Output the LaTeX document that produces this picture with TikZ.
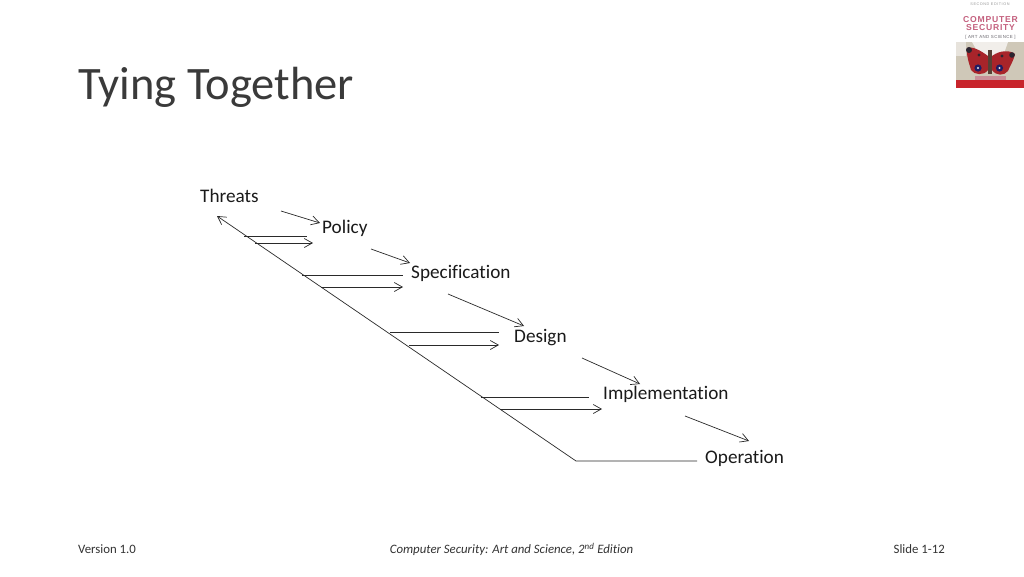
\documentclass[tikz,border=0pt]{standalone}
\usepackage{fontspec}
\setmainfont[RawFeature={-liga;-clig}]{Carlito}
\newfontfamily\coverf[LetterSpace=9]{Liberation Sans}
\newfontfamily\coverg[LetterSpace=14]{Liberation Sans}
\usetikzlibrary{arrows.meta}
\definecolor{titlec}{HTML}{3A3A3A}
\definecolor{labelc}{HTML}{1A1A1A}
\definecolor{linec}{HTML}{2A2A2A}
\definecolor{footc}{HTML}{333333}
\definecolor{pinkc}{HTML}{C4607E}
\definecolor{redc}{HTML}{C8242B}
\definecolor{creamc}{HTML}{CFC8B8}
\definecolor{wingc}{HTML}{A8242A}
\definecolor{darkc}{HTML}{2A2530}
\tikzset{
  x=1pt,y=-1pt,
  lbl/.style={anchor=west,inner sep=0pt,font=\fontsize{19.2}{21}\selectfont,text=labelc},
  foot/.style={inner sep=0pt,font=\fontsize{12.8}{14}\selectfont,text=footc},
  conn/.style={draw=linec,line width=0.7pt},
  arr/.style={conn,-{Straight Barb[length=8pt,width=9pt,line width=0.7pt]}},
  covertxt/.style={inner sep=0pt,text=pinkc,font=\coverf\bfseries\fontsize{8.6}{9}\selectfont},
}
\begin{document}
\begin{tikzpicture}
\useasboundingbox (0,0) rectangle (1024,576);
\fill[white] (0,0) rectangle (1024,576);
% title and footer
\node[anchor=west,inner sep=0pt,font=\fontsize{46.5}{50}\selectfont,text=titlec] (title) at (78,87.5) {Tying Together};
\node[foot,anchor=west] (ver) at (78,549.5) {Version 1.0};
\node[foot,anchor=center] (mid) at (511.5,549.5) {\textit{Computer Security: Art and Science, 2\textsuperscript{nd} Edition}};
\node[foot,anchor=east] (sl) at (945,549.5) {Slide 1-12};
% labels
\node[lbl] (threats) at (200,195.5) {Threats};
\node[lbl] (policy) at (322,228.5) {Policy};
\node[lbl] (spec) at (411,273) {Specification};
\node[lbl] (design) at (514,337.5) {Design};
\node[lbl] (impl) at (603,394.5) {Implementation};
\node[lbl] (oper) at (705,458.5) {Operation};
% coordinates
\coordinate (c1a) at (281,211); \coordinate (c1b) at (320,223);
\coordinate (c2a) at (371,249); \coordinate (c2b) at (410,263);
\coordinate (c3a) at (448,294); \coordinate (c3b) at (524,326);
\coordinate (c4a) at (582,358); \coordinate (c4b) at (640,384);
\coordinate (c5a) at (685,416); \coordinate (c5b) at (749,441);
\coordinate (top) at (217,216); \coordinate (bend) at (576,461); \coordinate (bendend) at (697,461);
\coordinate (h1a) at (244,236); \coordinate (h1b) at (307,236);
\coordinate (h2a) at (255,243); \coordinate (h2b) at (313,243);
\coordinate (h3a) at (302,275); \coordinate (h3b) at (403,275);
\coordinate (h4a) at (321,287); \coordinate (h4b) at (403,287);
\coordinate (h5a) at (390,332); \coordinate (h5b) at (499,332);
\coordinate (h6a) at (409,345); \coordinate (h6b) at (499,345);
\coordinate (h7a) at (481,397); \coordinate (h7b) at (589,397);
\coordinate (h8a) at (500,409); \coordinate (h8b) at (602,409);
% forward arrows
\draw[arr] (c1a) -- (c1b);
\draw[arr] (c2a) -- (c2b);
\draw[arr] (c3a) -- (c3b);
\draw[arr] (c4a) -- (c4b);
\draw[arr] (c5a) -- (c5b);
% feedback line
\draw[arr] (bendend) -- (bend) -- (top);
\draw[conn] (h1a) -- (h1b);
\draw[arr] (h2a) -- (h2b);
\draw[conn] (h3a) -- (h3b);
\draw[arr] (h4a) -- (h4b);
\draw[conn] (h5a) -- (h5b);
\draw[arr] (h6a) -- (h6b);
\draw[conn] (h7a) -- (h7b);
\draw[arr] (h8a) -- (h8b);
% book cover
\fill[creamc] (956,42) rectangle (1024,80);
\fill[white!70!creamc] (972,42) -- (1008,42) -- (1003,56) -- (980,56) -- cycle;
\fill[white!50!creamc] (956,42) rectangle (966,56);
\fill[redc] (956,80) rectangle (1024,88);
\node[inner sep=0pt,text=gray!80,font=\coverg\fontsize{3.8}{4}\selectfont] (ed) at (990,4.5) {SECOND EDITION};
\node[covertxt] (cv1) at (990.5,19.5) {COMPUTER};
\node[covertxt] (cv2) at (990.5,27.5) {SECURITY};
\node[inner sep=0pt,text=darkc!70,font=\coverf\fontsize{4.4}{5}\selectfont] (cv3) at (990.5,37.5) {[\,\,ART AND SCIENCE\,\,]};
% butterfly
\fill[wingc] (988,56) .. controls (980,50) and (972,46) .. (967,48) .. controls (966,56) and (970,66) .. (971,70) .. controls (974,75) and (984,76) .. (988,70) -- cycle;
\fill[wingc] (992,56) .. controls (1000,50) and (1010,50) .. (1015,54) .. controls (1014,60) and (1009,68) .. (1008,71) .. controls (1004,76) and (996,76) .. (992,70) -- cycle;
\fill[darkc] (969,50) circle (3); \fill[darkc] (1012,55) circle (2.8);
\fill[darkc] (979,55) circle (1.6); \fill[darkc] (1002,56) circle (1.6);
\fill[darkc!75!blue] (978,68) circle (3.6); \fill[darkc!75!blue] (999.5,68) circle (3.6);
\fill[white!60!creamc] (978,68) circle (1.2); \fill[white!60!creamc] (999.5,68) circle (1.2);
\fill[darkc!70!brown] (988,50) rectangle (992,74);
\fill[pinkc!55!creamc] (975,76) rectangle (1006,80);
\end{tikzpicture}
\end{document}
